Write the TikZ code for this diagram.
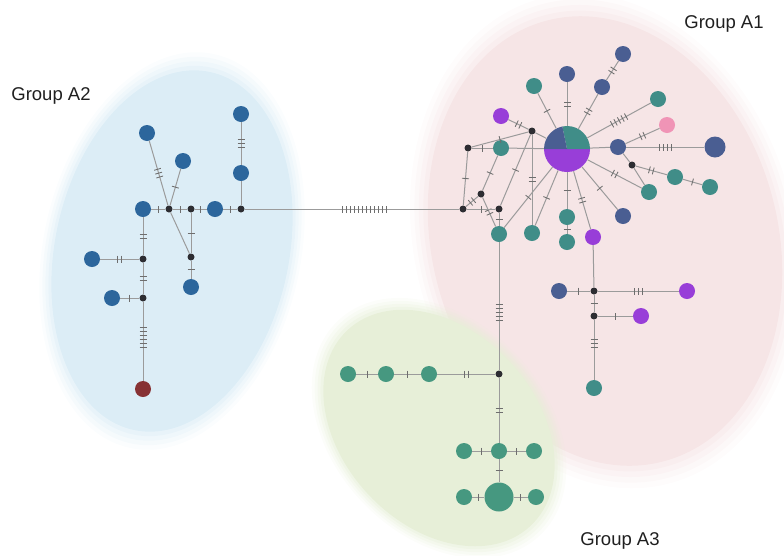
\documentclass[tikz,border=0pt]{standalone}
\usepackage{fontspec}
\setmainfont{Liberation Sans}
\usetikzlibrary{decorations.markings}

\definecolor{bA2}{RGB}{44,102,156}
\definecolor{dbl}{RGB}{74,94,146}
\definecolor{tea}{RGB}{64,141,136}
\definecolor{grn}{RGB}{70,152,128}
\definecolor{pur}{RGB}{152,62,216}
\definecolor{pnk}{RGB}{240,148,182}
\definecolor{rd}{RGB}{135,50,52}
\definecolor{blk}{RGB}{45,45,50}
\definecolor{edg}{RGB}{155,155,155}
\definecolor{tkc}{RGB}{110,110,110}
\definecolor{ellB}{RGB}{220,237,246}
\definecolor{ellP}{RGB}{246,229,230}
\definecolor{ellG}{RGB}{231,239,216}

\newcommand\ed[3]{\draw[ln,tk=#3] (#1) -- (#2);}
\newcommand\edp[4]{\draw[ln,tkat={#3}{#4}] (#1) -- (#2);}
\newcommand\eo[2]{\draw[ln] (#1) -- (#2);}

\begin{document}
\begin{tikzpicture}[x=1pt,y=-1pt,
 hap/.style={circle,inner sep=0pt,minimum size=16pt,fill=#1},
 med/.style={circle,inner sep=0pt,minimum size=7pt,fill=blk},
 ln/.style={draw=edg,line width=1pt},
 tkat/.style n args={2}{postaction={decorate,decoration={markings,mark=at position #2 with {\foreach \k in {1,...,#1}{\draw[draw=tkc,line width=0.85pt] ({(\k-(#1+1)/2)*4pt},-3.5pt) -- ({(\k-(#1+1)/2)*4pt},3.5pt);}}}}},
 tk/.style={tkat={#1}{0.5}},
 lab/.style={font=\fontsize{18.5}{22}\selectfont, text=black!88}
]
\useasboundingbox (0,0) rectangle (784,555);
\begin{scope}
\clip (0,0) rectangle (784,555);
% background groups with soft edges
\foreach \s/\o in {1.10/0.12,1.075/0.18,1.05/0.25,1.025/0.35}{
  \fill[ellB,opacity=\o,rotate around={-12:(172,251)}] (172,251) ellipse[x radius=\s*117pt, y radius=\s*183pt];
  \fill[ellP,opacity=\o,rotate around={15:(605,241)}] (605,241) ellipse[x radius=\s*173pt, y radius=\s*228pt];
}
\fill[ellB,rotate around={-12:(172,251)}] (172,251) ellipse[x radius=117pt, y radius=183pt];
\fill[ellP,rotate around={15:(605,241)}] (605,241) ellipse[x radius=173pt, y radius=228pt];
\foreach \s/\o in {1.10/0.12,1.075/0.18,1.05/0.25,1.025/0.35}{
  \fill[ellG,opacity=\o,rotate around={-47:(439,428)}] (439,428) ellipse[x radius=\s*134pt, y radius=\s*97pt];
}
\fill[ellG,rotate around={-47:(439,428)}] (439,428) ellipse[x radius=134pt, y radius=97pt];
\end{scope}

% labels
\node[lab] (lA2) at (51,96) {Group A2};
\node[lab] (lA1) at (724,24) {Group A1};
\node[lab] (lA3) at (620,541) {Group A3};

% ---- Group A2 nodes
\node[hap=bA2] (b1) at (147,133) {};
\node[hap=bA2] (b2) at (183,161) {};
\node[hap=bA2] (b3) at (241,114) {};
\node[hap=bA2] (b4) at (241,173) {};
\node[hap=bA2] (b5) at (143,209) {};
\node[hap=bA2] (b6) at (215,209) {};
\node[hap=bA2] (b7) at (92,259) {};
\node[hap=bA2] (b8) at (112,298) {};
\node[hap=bA2] (b9) at (191,287) {};
\node[hap=rd] (r1) at (143,389) {};
\node[med] (k1) at (169,209) {};
\node[med] (k2) at (191,209) {};
\node[med] (k3) at (241,209) {};
\node[med] (k4) at (143,259) {};
\node[med] (k5) at (143,298) {};
\node[med] (k6) at (191,257) {};

% ---- Group A1 nodes
\node[circle,inner sep=0pt,minimum size=46pt] (c0) at (567,149) {};
\begin{scope}
\clip (567,149) circle[radius=23pt];
\fill[pur] (540,149) rectangle (594,176);
\fill[tea] (567,149) -- (595,149) -- (595,120) -- (561,120) -- cycle;
\fill[dbl] (567,149) -- (561,120) -- (539,120) -- (539,149) -- cycle;
\end{scope}
\node[hap=tea] (a1) at (534,86) {};
\node[hap=dbl] (a2) at (567,74) {};
\node[hap=dbl] (a3) at (602,87) {};
\node[hap=dbl] (a4) at (623,54) {};
\node[hap=tea] (a5) at (658,99) {};
\node[hap=pnk] (a6) at (667,125) {};
\node[hap=dbl] (a7) at (618,147) {};
\node[hap=dbl,minimum size=21pt] (a8) at (715,147) {};
\node[hap=tea] (a9) at (649,192) {};
\node[hap=tea] (a10) at (675,177) {};
\node[hap=tea] (a11) at (710,187) {};
\node[hap=dbl] (a12) at (623,216) {};
\node[hap=pur] (a13) at (593,237) {};
\node[hap=tea] (a14) at (567,217) {};
\node[hap=tea] (a15) at (567,242) {};
\node[hap=tea] (a16) at (532,233) {};
\node[hap=tea] (a17) at (499,234) {};
\node[hap=pur] (a18) at (501,116) {};
\node[hap=tea] (a19) at (501,148) {};
\node[hap=dbl] (a20) at (559,291) {};
\node[hap=pur] (a21) at (687,291) {};
\node[hap=pur] (a22) at (641,316) {};
\node[hap=tea] (a23) at (594,388) {};
\node[med] (m1) at (632,165) {};
\node[med] (m2) at (532,131) {};
\node[med] (m3) at (468,148) {};
\node[med] (m4) at (463,209) {};
\node[med] (m5) at (481,194) {};
\node[med] (m6) at (499,209) {};
\node[med] (m7) at (499,374) {};
\node[med] (m8) at (594,291) {};
\node[med] (m9) at (594,316) {};

% ---- Group A3 nodes
\node[hap=grn] (g1) at (348,374) {};
\node[hap=grn] (g2) at (386,374) {};
\node[hap=grn] (g3) at (429,374) {};
\node[hap=grn] (g4) at (499,451) {};
\node[hap=grn] (g5) at (464,451) {};
\node[hap=grn] (g6) at (534,451) {};
\node[hap=grn,minimum size=29pt] (g7) at (499,497) {};
\node[hap=grn] (g8) at (464,497) {};
\node[hap=grn] (g9) at (536,497) {};

% ---- edges A2
\ed{b5}{k1}{1} \ed{k1}{k2}{1} \ed{k2}{b6}{1} \ed{b6}{k3}{1}
\edp{k3}{m4}{12}{0.56}
\ed{b3}{b4}{3} \eo{b4}{k3}
\ed{b1}{k1}{3} \ed{b2}{k1}{1} \eo{k1}{k6} \ed{k2}{k6}{1} \ed{k6}{b9}{1}
\ed{b5}{k4}{2} \ed{k4}{b7}{2} \ed{k4}{k5}{2} \ed{k5}{b8}{1}
\edp{k5}{r1}{6}{0.45}

% ---- edges A1
\ed{c0}{a1}{1} \ed{c0}{a2}{2} \ed{c0}{a3}{2} \ed{a3}{a4}{2} \ed{c0}{a5}{5}
\ed{a7}{a6}{2} \eo{c0}{a7} \ed{a7}{a8}{4} \eo{a7}{m1} \eo{m1}{a9}
\ed{m1}{a10}{2} \ed{a10}{a11}{1} \ed{c0}{a9}{2} \ed{c0}{a12}{1}
\ed{c0}{a13}{2} \ed{c0}{a14}{1} \ed{a14}{a15}{1} \ed{c0}{a16}{1} \ed{c0}{a17}{1}
\ed{m2}{a16}{2} \ed{m2}{a18}{2} \eo{m2}{c0} \ed{m3}{m2}{1} \ed{m3}{a19}{1}
\eo{a19}{c0} \ed{m3}{m4}{1} \ed{m4}{m5}{2} \ed{m5}{a19}{1} \ed{m5}{a17}{2}
\ed{m4}{m6}{1} \ed{m6}{m2}{1} \ed{m6}{a17}{1}
\edp{a17}{m7}{5}{0.55}
\eo{a13}{m8} \ed{m8}{a20}{1} \ed{m8}{a21}{3} \ed{m8}{m9}{1} \ed{m9}{a22}{1} \edp{m9}{a23}{3}{0.4}

% ---- edges A3
\ed{m7}{g3}{2} \ed{g3}{g2}{1} \ed{g2}{g1}{1}
\ed{m7}{g4}{2} \ed{g4}{g5}{1} \ed{g4}{g6}{1} \ed{g4}{g7}{1} \ed{g7}{g8}{1} \ed{g7}{g9}{1}
\end{tikzpicture}
\end{document}
